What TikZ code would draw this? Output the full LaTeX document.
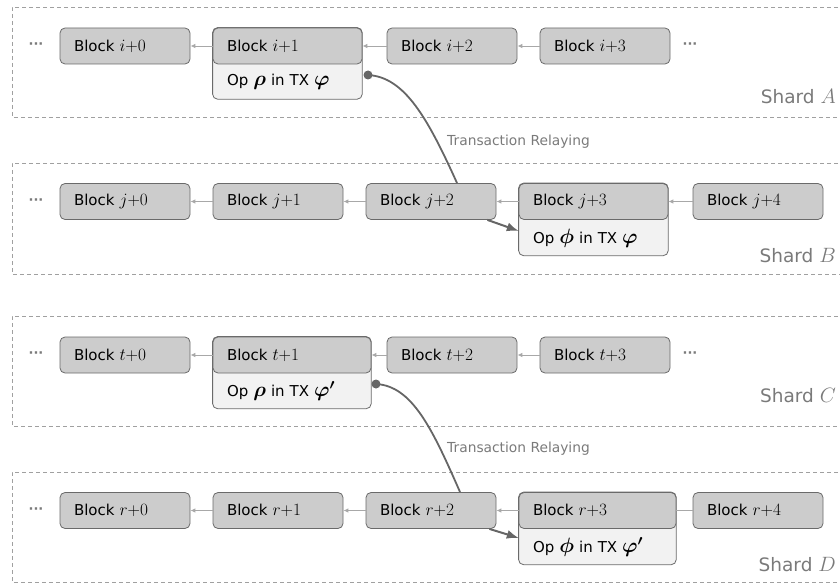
\documentclass[tikz,border=0pt]{standalone}
\usepackage{amsmath}
\usepackage{bm}
\usepackage{fontspec}
\setmainfont{DejaVu Sans}
\usetikzlibrary{arrows.meta,calc,backgrounds}
\definecolor{blkfill}{HTML}{CCCCCC}
\definecolor{blkdraw}{HTML}{6A6A6A}
\definecolor{opfill}{HTML}{F2F2F2}
\definecolor{linkc}{HTML}{A8A8A8}
\definecolor{relayc}{HTML}{666666}
\definecolor{lblc}{HTML}{7A7A7A}
\definecolor{shardc}{HTML}{A0A0A0}
\newcommand\bmath[1]{{\fontsize{18}{20}\selectfont$#1$}}
\newcommand\omath[1]{{\fontsize{20}{22}\selectfont$#1$}}
\newcommand\smath[1]{{\fontsize{22}{24}\selectfont$#1$}}
\begin{document}
\begin{tikzpicture}[x=1pt,y=-1pt,
  blk/.style={draw=blkdraw, fill=blkfill, rounded corners=5pt, line width=0.8pt,
    minimum height=36pt, inner xsep=14pt, inner ysep=0pt, text width=#1, align=left,
    font=\fontsize{15}{18}\selectfont},
  blk/.default=102pt,
  opn/.style={minimum height=35pt, inner xsep=14pt, inner ysep=0pt, text width=#1, align=left,
    font=\fontsize{15}{18}\selectfont},
  opshape/.style={draw=blkdraw, fill=opfill, rounded corners=5pt, line width=0.8pt},
  link/.style={draw=linkc, line width=0.9pt, -{Latex[length=5pt,width=4.5pt]}},
  linkplain/.style={draw=linkc, line width=0.9pt},
  shard/.style={draw=shardc, dashed, dash pattern=on 4pt off 3pt, line width=0.8pt},
  dotsn/.style={text=lblc, font=\fontsize{13}{14}\selectfont\bfseries},
  shardlbl/.style={anchor=east, inner sep=0pt, text=lblc, font=\fontsize{18.5}{22}\selectfont},
  relaylbl/.style={anchor=west, inner sep=0pt, text=lblc, font=\fontsize{13.8}{16}\selectfont},
  relay/.style={draw=relayc, line width=1.8pt},
  relayarrow/.style={draw=relayc, line width=2pt, -{Latex[length=12pt,width=9pt]}},
  srcdot/.style={circle, fill=relayc, inner sep=0pt, minimum size=9pt}
]
\useasboundingbox (0,0) rectangle (840,583);

% shard frames
\draw[shard] (845,7) -- (12,7) -- (12,117) -- (845,117);
\draw[shard] (845,163) -- (12,163) -- (12,274) -- (845,274);
\draw[shard] (845,316) -- (12,316) -- (12,426) -- (845,426);
\draw[shard] (845,472) -- (12,472) -- (12,582) -- (845,582);

% ---------- Shard A ----------
\node[dotsn] (dA0) at (36,46) {···};
\node[blk] (a0) at (125,46) {Block \bmath{i{+}0}};
\node[opn=121pt] (opA) at (287.5,81.5) {Op \omath{\bm{\rho}} in TX \omath{\bm{\varphi}}};
\node[blk=121pt] (a1) at (287.5,46) {Block \bmath{i{+}1}};
\node[blk] (a2) at (452,46) {Block \bmath{i{+}2}};
\node[blk] (a3) at (605,46) {Block \bmath{i{+}3}};
\node[dotsn] (dA1) at (690,46) {···};
\begin{scope}[on background layer]
  \draw[opshape] (a1.north west) rectangle (opA.south east);
\end{scope}
\draw[link] (a1.west) -- (a0.east);
\draw[link] (a2.west) -- (a1.east);
\draw[link] (a3.west) -- (a2.east);
\node[shardlbl] (lA) at (836,97) {Shard \smath{A}};

% ---------- Shard B ----------
\node[dotsn] (dB0) at (36,201.5) {···};
\node[blk] (b0) at (125,201.5) {Block \bmath{j{+}0}};
\node[blk] (b1) at (278,201.5) {Block \bmath{j{+}1}};
\node[blk] (b2) at (431,201.5) {Block \bmath{j{+}2}};
\node[opn=121pt] (opB) at (593.5,238) {Op \omath{\bm{\phi}} in TX \omath{\bm{\varphi}}};
\node[blk=121pt] (b3) at (593.5,201.5) {Block \bmath{j{+}3}};
\node[blk] (b4) at (758,201.5) {Block \bmath{j{+}4}};
\begin{scope}[on background layer]
  \draw[opshape] (b3.north west) rectangle (opB.south east);
\end{scope}
\draw[link] (b1.west) -- (b0.east);
\draw[link] (b2.west) -- (b1.east);
\draw[link] (b3.west) -- (b2.east);
\draw[link] (b4.west) -- (b3.east);
\node[shardlbl] (lB) at (836,256) {Shard \smath{B}};

% relay A -> B
\node[srcdot] (sA) at (368,75) {};
\coordinate (eB) at (457,183);
\draw[relay] (sA.center) .. controls (405,77) and (428,119) .. (eB);
\node[relaylbl] (tA) at (447,142) {Transaction Relaying};
\coordinate (fB) at ($(b2.south east)+(-9,0)$);
\coordinate (gB) at ($(opB.west)+(0,-7)$);
\draw[relayarrow] (fB) -- (gB);

% ---------- Shard C ----------
\node[dotsn] (dC0) at (36,355) {···};
\node[blk] (c0) at (125,355) {Block \bmath{t{+}0}};
\node[opn=130pt] (opC) at (292,391) {Op \omath{\bm{\rho}} in TX \omath{\bm{\varphi'}}};
\node[blk=130pt] (c1) at (292,355) {Block \bmath{t{+}1}};
\node[blk] (c2) at (452,355) {Block \bmath{t{+}2}};
\node[blk] (c3) at (605,355) {Block \bmath{t{+}3}};
\node[dotsn] (dC1) at (690,355) {···};
\begin{scope}[on background layer]
  \draw[opshape] (c1.north west) rectangle (opC.south east);
\end{scope}
\draw[link] (c1.west) -- (c0.east);
\draw[link] (c2.west) -- (c1.east);
\draw[link] (c3.west) -- (c2.east);
\node[shardlbl] (lC) at (836,396) {Shard \smath{C}};

% ---------- Shard D ----------
\node[dotsn] (dD0) at (36,510.5) {···};
\node[blk] (d0) at (125,510.5) {Block \bmath{r{+}0}};
\node[blk] (d1) at (278,510.5) {Block \bmath{r{+}1}};
\node[blk] (d2) at (431,510.5) {Block \bmath{r{+}2}};
\node[opn=129pt] (opD) at (597.5,547) {Op \omath{\bm{\phi}} in TX \omath{\bm{\varphi'}}};
\node[blk=129pt] (d3) at (597.5,510.5) {Block \bmath{r{+}3}};
\node[blk] (d4) at (758,510.5) {Block \bmath{r{+}4}};
\begin{scope}[on background layer]
  \draw[opshape] (d3.north west) rectangle (opD.south east);
\end{scope}
\draw[link] (d1.west) -- (d0.east);
\draw[link] (d2.west) -- (d1.east);
\draw[link] (d3.west) -- (d2.east);
\draw[linkplain] (d4.west) -- (d3.east);
\node[shardlbl] (lD) at (836,565) {Shard \smath{D}};

% relay C -> D
\node[srcdot] (sC) at (376,384) {};
\coordinate (eD) at (460,492);
\draw[relay] (sC.center) .. controls (412,386) and (432,428) .. (eD);
\node[relaylbl] (tC) at (447,449) {Transaction Relaying};
\coordinate (fD) at ($(d2.south east)+(-7,0)$);
\coordinate (gD) at ($(opD.west)+(0,-9)$);
\draw[relayarrow] (fD) -- (gD);
\end{tikzpicture}
\end{document}
